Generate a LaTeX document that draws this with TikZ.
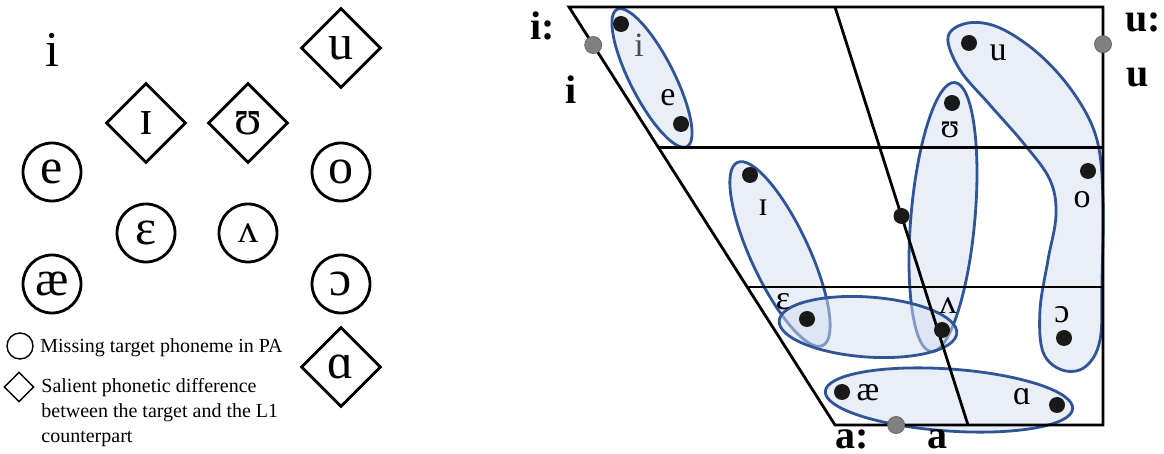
\documentclass[tikz,border=0pt]{standalone}
\usepackage{fontspec}
\setmainfont{Liberation Serif}
\usepackage{tikz}
\usetikzlibrary{
    shapes.geometric,
    calc
}
\definecolor{grpline}{RGB}{47,85,151}
\definecolor{grpfill}{RGB}{211,221,239}

\begin{document}
\begin{tikzpicture}[
            x=0.5pt, y=-0.5pt,
            font=\fontsize{10}{12.5}\selectfont,
            sym/.style={font=\fontsize{25}{25}\selectfont, inner sep=0pt},
            miss/.style={sym, circle, draw, line width=1.4pt, minimum size=29pt},
            salient/.style={sym, diamond, draw, line width=1.4pt, minimum size=40pt},
            legcircle/.style={circle, draw, line width=0.7pt, minimum size=13pt, inner sep=0pt},
            legdiamond/.style={diamond, draw, line width=0.7pt, minimum size=15pt, inner sep=0pt},
            chart/.style={line width=1.4pt},
            grp/.style={draw=grpline, line width=1.4pt, fill=grpfill, fill opacity=0.5},
            grpnode/.style={grp, ellipse, inner sep=0pt},
            vowel/.style={circle, fill=black!90, inner sep=0pt, minimum size=8pt},
            anchorpt/.style={circle, fill=black!50, draw=black!60, line width=0.4pt, inner sep=0pt, minimum size=8.5pt},
            lbl/.style={font=\fontsize{17}{17}\selectfont, inner sep=0pt},
            edgelbl/.style={font=\bfseries\fontsize{20}{20}\selectfont, inner sep=0pt}
        ]
            \useasboundingbox (0,0) rectangle (1164,454);

            % left panel: target vowels
            \node[sym] (Li) at (52,50) {i};
            \node[salient] (Lu) at (341,48) {u};
            \node[salient] (LI) at (146,123) {ɪ};
            \node[salient] (LU) at (248,123) {ʊ};
            \node[miss] (Le) at (52,172) {e};
            \node[miss] (Lo) at (341,172) {o};
            \node[miss] (LE) at (146,233) {ɛ};
            \node[miss, font=\fontsize{20}{20}\selectfont] (LV) at (248,233) {ʌ};
            \node[miss] (Lae) at (52,284) {æ};
            \node[miss] (LO) at (341,284) {ɔ};
            \node[salient] (La) at (341,367) {ɑ};

            % legend
            \node[legcircle] (kmiss) at (20,346) {};
            \node[anchor=base west, inner sep=0pt] (tmiss) at (40,353) {Missing target phoneme in PA};
            \node[legdiamond] (ksal) at (19,387) {};
            \node[anchor=north west, align=left, inner sep=0pt] (tsal) at (41,378)
                {Salient phonetic difference\\
                 between the target and the L1\\
                 counterpart};

            % right panel: groupings
            \node[grpnode, minimum width=77pt, minimum height=22pt, rotate=-63] (gie) at (652,78) {};
            \node[grpnode, minimum width=101pt, minimum height=29pt, rotate=-65] (gIE) at (780,254) {};
            \node[grpnode, minimum width=32pt, minimum height=135pt, rotate=-5] (gUV) at (943,217) {};
            \node[grpnode, minimum width=89pt, minimum height=30pt, rotate=-4] (gEV) at (868,327) {};
            \node[grpnode, minimum width=124pt, minimum height=31pt, rotate=-4] (gaea) at (949,400) {};
            \draw[grp] plot[smooth cycle, tension=0.6] coordinates {
                (948,37) (968,23) (1000,28) (1040,55) (1075,95) (1097,140) (1103,200)
                (1102,280) (1100,340) (1085,367) (1062,370) (1043,352) (1040,310)
                (1048,260) (1056,215) (1050,180) (1025,145) (990,105) (960,70)};

            % right panel: vowel chart
            \coordinate (tl) at (569,7);
            \coordinate (tr) at (1103,7);
            \coordinate (br) at (1103,425);
            \coordinate (bl) at (835,425);
            \coordinate (ctop) at (835,7);
            \coordinate (cbot) at (968,425);
            \draw[chart] (tl) -- (tr) -- (br) -- (bl) -- cycle;
            \draw[chart] ($(tl)!0.337!(bl)$) -- ($(tr)!0.337!(br)$);
            \draw[chart] ($(tl)!0.670!(bl)$) -- ($(tr)!0.670!(br)$);
            \draw[chart] (ctop) -- (cbot);

            \node[anchorpt] (pi) at ($(tl)!0.091!(bl)$) {};
            \node[anchorpt] (pu) at ($(tr)!0.089!(br)$) {};
            \node[anchorpt] (pa) at ($(bl)!0.228!(br)$) {};
            \node[vowel] (dmid) at ($(ctop)!0.5!(cbot)$) {};

            \node[vowel] (di) at (621,24) {};
            \node[vowel] (de) at (681,124) {};
            \node[vowel] (dI) at (750,175) {};
            \node[vowel] (dU) at (952,103) {};
            \node[vowel] (du) at (969,43) {};
            \node[vowel] (do) at (1088,171) {};
            \node[vowel] (dE) at (807,319) {};
            \node[vowel] (dV) at (942,330) {};
            \node[vowel] (dO) at (1064,338) {};
            \node[vowel] (dae) at (842,392) {};
            \node[vowel] (da) at (1057,405) {};

            \node[lbl, text=black!70] (ti) at (639,45) {i};
            \node[lbl] (te) at (668,98) {e};
            \node[lbl] (tI) at (763,208) {ɪ};
            \node[lbl] (tU) at (950,130) {ʊ};
            \node[lbl] (tu) at (998,53) {u};
            \node[lbl] (to) at (1082,200) {o};
            \node[lbl] (tE) at (783,302) {ɛ};
            \node[lbl] (tV) at (948,306) {ʌ};
            \node[lbl] (tO) at (1062,315) {ɔ};
            \node[lbl] (tae) at (868,393) {æ};
            \node[lbl] (ta) at (1022,397) {ɑ};

            \node[edgelbl] (ei2) at (543,26) {i:};
            \node[edgelbl] (ei) at (571,90) {i};
            \node[edgelbl] (eu2) at (1143,22) {u:};
            \node[edgelbl] (eu) at (1138,78) {u};
            \node[edgelbl] (ea2) at (852,439) {a:};
            \node[edgelbl] (ea) at (937,439) {a};
        \end{tikzpicture}
\end{document}
